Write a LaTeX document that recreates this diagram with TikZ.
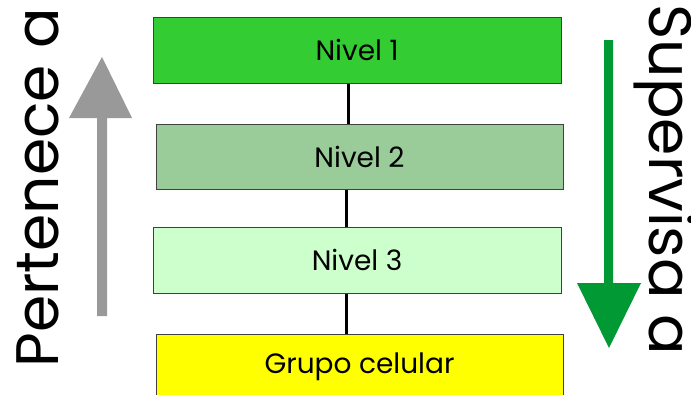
\documentclass[tikz,border=0pt]{standalone}
\usepackage{fontspec}
\setmainfont{Poppins}
\definecolor{lvlone}{HTML}{33CC33}
\definecolor{lvltwo}{HTML}{99CC99}
\definecolor{lvlthree}{HTML}{CCFFCC}
\definecolor{grp}{HTML}{FFFF00}
\definecolor{upgray}{HTML}{999999}
\definecolor{downgreen}{HTML}{009933}
\definecolor{edge}{HTML}{404040}
\tikzset{
  lvlbox/.style={draw=edge, line width=1pt, rectangle, minimum width=407pt, minimum height=65pt, inner sep=0pt, font=\fontsize{28}{32}\selectfont},
  link/.style={draw=black, line width=3pt},
  bigword/.style={inner sep=0pt, font=\fontsize{60}{68}\selectfont}
}
\begin{document}
\begin{tikzpicture}[x=1pt, y=-1pt]
\useasboundingbox (0,0) rectangle (691,394);
\clip (0,0) rectangle (691,394);
\fill[white] (0,0) rectangle (691,394);
\node[lvlbox, fill=lvlone, minimum width=408pt, minimum height=66pt] (n1) at (357,50) {Nivel 1};
\node[lvlbox, fill=lvltwo] (n2) at (359.5,156.5) {Nivel 2};
\node[lvlbox, fill=lvlthree, minimum width=408pt, minimum height=66pt] (n3) at (357,260) {Nivel 3};
\node[lvlbox, fill=grp] (g) at (359.5,367) {Grupo celular};
\draw[link] ([xshift=-9pt]n1.south) -- ([xshift=-11.5pt]n2.north);
\draw[link] ([xshift=-13.5pt]n2.south) -- ([xshift=-11pt]n3.north);
\draw[link] ([xshift=-11pt]n3.south) -- ([xshift=-13.5pt]g.north);
% gray arrow (up)
\fill[upgray] (97,316) -- (107,316) -- (107,118) -- (132,118) -- (102,57) -- (69,118) -- (97,118) -- cycle;
% green arrow (down)
\fill[downgreen] (604,40) -- (613,40) -- (613,283) -- (641,283) -- (609,348) -- (577,283) -- (604,283) -- cycle;
\node[bigword, rotate=90] (per) at (38,188) {Pertenece a};
\node[bigword, rotate=-90] (sup) at (665,180) {Supervisa a};
\end{tikzpicture}
\end{document}
